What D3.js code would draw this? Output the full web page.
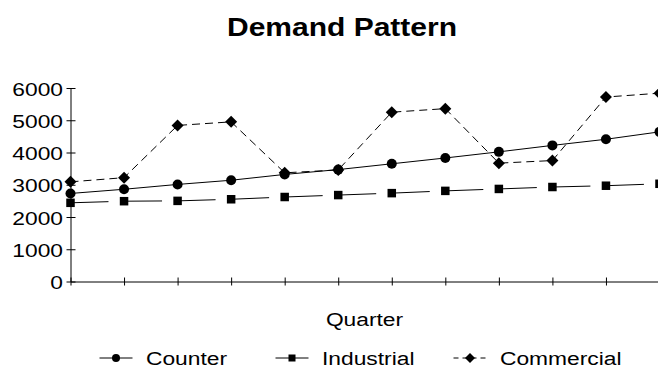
<!DOCTYPE html>
<html>
<head>
<meta charset="utf-8">
<script src="https://cdn.jsdelivr.net/npm/d3@7"></script>
<style>
  html, body { margin: 0; padding: 0; background: #fff; }
  svg { display: block; }
  text { font-family: "Liberation Sans", Arial, sans-serif; fill: #000; }
</style>
</head>
<body>
<svg id="chart" width="658" height="381"></svg>
<script>
// Quarterly demand by customer group
const quarters = ["Q1", "Q2", "Q3", "Q4", "Q5", "Q6", "Q7", "Q8", "Q9", "Q10", "Q11", "Q12"];
const counter = [2730, 2860, 3010, 3140, 3320, 3470, 3650, 3830, 4020, 4220, 4410, 4640];
const industrial = [2440, 2490, 2500, 2550, 2620, 2680, 2740, 2810, 2870, 2930, 2970, 3030];
const commercial = [3090, 3220, 4840, 4950, 3370, 3460, 5250, 5360, 3670, 3750, 5720, 5840];
const yTicks = [0, 1000, 2000, 3000, 4000, 5000, 6000];
const seriesNames = ["Counter", "Industrial", "Commercial"];

const svg = d3.select("#chart");
const sx = 1.2; // horizontal stretch applied to all text

const x = d3.scalePoint().domain(quarters).range([70.5, 659.5]);
const y = d3.scaleLinear().domain([0, 6000]).range([281.5, 88]);

// Title
svg.append("text")
  .attr("transform", `translate(342,36) scale(${sx},1)`)
  .attr("text-anchor", "middle")
  .style("font-size", "25px").style("font-weight", "bold")
  .text("Demand Pattern");

// Y axis with ticks crossing the axis line
const yAxis = svg.append("g")
  .attr("transform", "translate(70.5,0)")
  .call(d3.axisLeft(y).tickValues(yTicks).tickSizeInner(4).tickSizeOuter(0).tickFormat(d3.format("d")));
yAxis.select(".domain").attr("stroke", "#000");
yAxis.selectAll(".tick line").attr("x1", 5).attr("stroke", "#000");
yAxis.selectAll(".tick text")
  .attr("x", null).attr("dy", "0.37em")
  .attr("transform", `translate(-7.5,0) scale(${sx},1)`)
  .attr("font-family", null).attr("font-size", null)
  .style("font-size", "19px");

// X axis (no category labels), ticks crossing the axis line
const xAxis = svg.append("g")
  .attr("transform", "translate(0,281.5)")
  .call(d3.axisBottom(x).tickSizeInner(4).tickSizeOuter(0).tickFormat(""));
xAxis.select(".domain").attr("stroke", "#000");
xAxis.selectAll(".tick line").attr("y1", -4).attr("stroke", "#000");
xAxis.selectAll(".tick text").remove();

// Axis title
svg.append("text")
  .attr("transform", `translate(364.5,326) scale(${sx},1)`)
  .attr("text-anchor", "middle")
  .style("font-size", "19px")
  .text("Quarter");

const line = d3.line().x((d, i) => x(quarters[i])).y(d => y(d));

// Marker shapes
function circleMark(g, cx, cy, r) {
  g.append("circle").attr("cx", cx).attr("cy", cy).attr("r", r).attr("fill", "#000");
}
function squareMark(g, cx, cy, s) {
  g.append("rect").attr("x", cx - s / 2).attr("y", cy - s / 2).attr("width", s).attr("height", s).attr("fill", "#000");
}
function diamondMark(g, cx, cy, h) {
  g.append("path")
    .attr("d", `M${cx},${cy - h}L${cx + h},${cy}L${cx},${cy + h}L${cx - h},${cy}Z`)
    .attr("fill", "#000");
}

const plot = svg.append("g");

// Counter: solid line with circles
plot.append("path").datum(counter).attr("d", line)
  .attr("fill", "none").attr("stroke", "#000").attr("stroke-width", 1);

// Industrial: long dash starting at each point
industrial.forEach((v, i) => {
  if (i === industrial.length - 1) return;
  plot.append("line")
    .attr("x1", x(quarters[i])).attr("y1", y(v))
    .attr("x2", x(quarters[i + 1])).attr("y2", y(industrial[i + 1]))
    .attr("stroke", "#000").attr("stroke-width", 1)
    .attr("stroke-dasharray", "38,1000");
});

// Commercial: short dashed line with diamonds
plot.append("path").datum(commercial).attr("d", line)
  .attr("fill", "none").attr("stroke", "#000").attr("stroke-width", 1)
  .attr("stroke-dasharray", "8,5");

counter.forEach((v, i) => circleMark(plot, x(quarters[i]), y(v), 5));
industrial.forEach((v, i) => squareMark(plot, x(quarters[i]), y(v), 8.5));
commercial.forEach((v, i) => diamondMark(plot, x(quarters[i]), y(v), 6));

// Legend
const legendX = [116, 292, 470];
const legendY = 358;
const legend = svg.append("g");
seriesNames.forEach((name, k) => {
  const cx = legendX[k];
  const ln = legend.append("line")
    .attr("x1", cx - 16.5).attr("x2", cx + 16.5)
    .attr("y1", legendY).attr("y2", legendY)
    .attr("stroke", "#000").attr("stroke-width", 1);
  if (k === 0) circleMark(legend, cx, legendY, 4);
  if (k === 1) squareMark(legend, cx, legendY, 7);
  if (k === 2) { ln.attr("stroke-dasharray", "5,4"); diamondMark(legend, cx, legendY, 5); }
  legend.append("text")
    .attr("transform", `translate(${cx + 30},365) scale(${sx},1)`)
    .style("font-size", "19px")
    .text(name);
});
</script>
</body>
</html>
